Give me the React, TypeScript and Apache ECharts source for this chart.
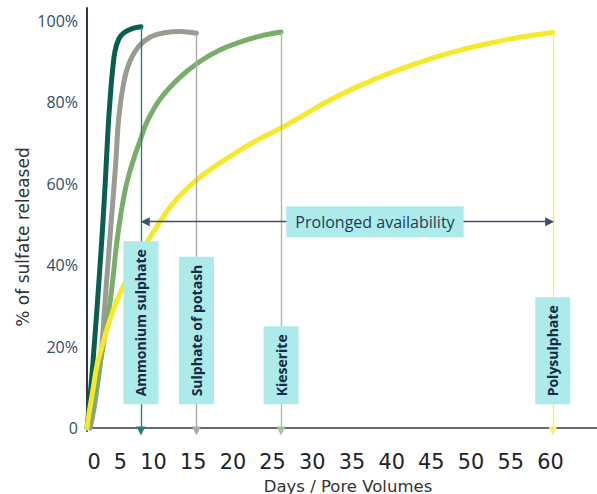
import React, { useEffect, useRef } from 'react';
import * as echarts from 'echarts';

// ---------- data ----------
const xTicks = [0, 5, 10, 15, 20, 25, 30, 35, 40, 45, 50, 55, 60];
const yTicks = [0, 20, 40, 60, 80, 100];

const ammoniumSulphate: [number, number][] = [
  [0, 0], [0.5, 10], [1.0, 22], [1.5, 35], [2.0, 49], [2.4, 62], [2.7, 73], [3.0, 81.5],
  [3.3, 88], [3.6, 92.5], [4.1, 95.6], [4.8, 97.2], [5.9, 98.2], [6.95, 98.6],
];
const sulphateOfPotash: [number, number][] = [
  [0.4, 0], [1, 6], [1.76, 17], [2.4, 33], [3.05, 49], [3.7, 65], [4.1, 76.5], [4.7, 84.5],
  [5.4, 89.5], [6.6, 93.6], [8.1, 96], [10, 97.1], [12, 97.4], [14.1, 97],
];
const kieserite: [number, number][] = [
  [0, 0], [0.5, 2.5], [1.1, 8.5], [1.8, 17], [2.6, 26], [3.3, 36], [3.8, 45], [4.4, 53],
  [5.1, 60], [6, 66], [7, 71.5], [7.8, 75.5], [9.5, 81], [12, 86.2], [14.5, 90], [17.1, 92.9],
  [19.7, 94.8], [22.3, 96.3], [25, 97.3],
];
const polysulphate: [number, number][] = [
  [0, 0], [0.3, 4], [0.7, 8.6], [1.3, 15.5], [2, 20.5], [2.6, 24.5], [3.3, 28.5], [3.9, 31.5],
  [4.8, 35.3], [6, 39.5], [7, 43], [7.85, 46], [9, 49.5], [10.4, 53.5], [12, 57.2], [14.1, 60.9],
  [16.7, 64.6], [19.7, 68.3], [22.3, 71.1], [25, 73.7], [28, 77], [31, 80.3], [35, 84],
  [39.4, 87.5], [44, 90.6], [48, 92.8], [52, 94.6], [56, 96.1], [60, 97.2],
];

const productNames = ['Ammonium sulphate', 'Sulphate of potash', 'Kieserite', 'Polysulphate'];
const availabilityText = 'Prolonged availability';
const availabilityFrom = 7.5;
const availabilityTo = 59.6;
const availabilityLevel = 50.7;
const availabilityLabelX = 37.1;
const labelBoxBottom = 5.8;

const X_MAX = 65.7;
const Y_MIN = -0.75;
const Y_MAX = 103.2;

const curveColors = ['#0a5e50', '#9a9b91', '#79ae6a', '#f6e82c'];
const arrowColors = ['#2e7e72', '#abaca4', '#a2c595', '#f7ef72'];

const SANS = "'Open Sans', 'Noto Sans', sans-serif";
const WIDE = "'DejaVu Sans', sans-serif";
const BOX = '#adeaea';

function buildOption() {
  const datasets = [ammoniumSulphate, sulphateOfPotash, kieserite, polysulphate];
  const series: any[] = datasets.map((data, i) => {
    const end = data[data.length - 1];
    const mlData: any[] = [
      [
        { coord: [end[0], end[1]], symbol: 'none' },
        { coord: [end[0], Y_MIN], symbol: 'triangle', lineStyle: { color: arrowColors[i], width: 1.4 } },
      ],
    ];
    if (i === datasets.length - 1) {
      mlData.push([
        { coord: [availabilityFrom, availabilityLevel], symbol: 'triangle' },
        {
          coord: [availabilityTo, availabilityLevel],
          symbol: 'triangle',
          lineStyle: { color: '#3b5266', width: 1.4 },
        },
      ]);
    }
    const mpData: any[] = [{ name: productNames[i], coord: [end[0], labelBoxBottom] }];
    const s: any = {
      name: productNames[i],
      type: 'line',
      data,
      smooth: 0.4,
      symbol: 'none',
      showSymbol: false,
      z: 2,
      lineStyle: { color: curveColors[i], width: 5, cap: 'round', join: 'round' },
      markLine: {
        silent: true,
        animation: false,
        symbolSize: 9,
        label: { show: false },
        lineStyle: { color: arrowColors[i], width: 1.4, type: 'solid' },
        data: mlData,
      },
      markPoint: {
        silent: true,
        animation: false,
        z: 10,
        symbol: 'rect',
        symbolSize: 1,
        itemStyle: { color: 'rgba(0,0,0,0)' },
        label: {
          show: true,
          position: 'inside',
          formatter: '{b}',
          rotate: 90,
          align: 'left',
          verticalAlign: 'middle',
          backgroundColor: BOX,
          padding: [9, 8, 9, 8],
          lineHeight: 17,
          color: '#142c48',
          fontWeight: 'bold',
          fontSize: 14,
          fontFamily: SANS,
        },
        data: mpData,
      },
    };
    return s;
  });

  // "Prolonged availability" box
  series.push({
    name: 'availability',
    type: 'line',
    data: [],
    markPoint: {
      silent: true,
      animation: false,
      z: 11,
      symbol: 'rect',
      symbolSize: 1,
      itemStyle: { color: 'rgba(0,0,0,0)' },
      label: {
        show: true,
        position: 'inside',
        formatter: '{b}',
        align: 'center',
        verticalAlign: 'middle',
        backgroundColor: BOX,
        padding: [6, 9, 6, 9],
        lineHeight: 19,
        color: '#1e3a55',
        fontSize: 16,
        fontFamily: SANS,
      },
      data: [{ name: availabilityText, coord: [availabilityLabelX, availabilityLevel] }],
    },
  });

  return {
    animation: false,
    backgroundColor: '#ffffff',
    textStyle: { fontFamily: SANS },
    grid: { left: 87, right: 0, top: 8, bottom: 63, containLabel: false, outerBoundsMode: 'none' },
    xAxis: {
      type: 'value',
      min: 0,
      max: X_MAX,
      name: 'Days / Pore Volumes',
      nameLocation: 'middle',
      nameGap: 46,
      nameMoveOverlap: false,
      nameTextStyle: { fontFamily: WIDE, fontSize: 16.5, lineHeight: 18, color: '#333', padding: [0, 0, 0, 12] },
      axisLine: { show: true, lineStyle: { color: '#2b3947', width: 1.6 } },
      axisTick: { show: false },
      axisLabel: { show: false },
      splitLine: { show: false },
    },
    yAxis: {
      type: 'value',
      min: Y_MIN,
      max: Y_MAX,
      name: '% of sulfate released',
      nameLocation: 'middle',
      nameGap: 56,
      nameMoveOverlap: false,
      nameRotate: 90,
      nameTextStyle: { fontFamily: WIDE, fontSize: 17, color: '#333', padding: [0, 35, 0, 0] },
      axisLine: { show: true, lineStyle: { color: '#2b3947', width: 2 } },
      axisTick: { show: false },
      splitLine: { show: false },
      axisLabel: {
        customValues: yTicks,
        margin: 9,
        fontSize: 16,
        fontFamily: SANS,
        color: '#2f4d6b',
        formatter: (v: number) => (v === 0 ? '0' : v + '%'),
      },
    },
    graphic: [
      {
        type: 'text',
        x: 325.5,
        y: 462,
        silent: true,
        style: {
          text: xTicks.join('  '),
          align: 'center',
          verticalAlign: 'middle',
          fontSize: 20.8,
          lineHeight: 21,
          fontFamily: WIDE,
          fill: '#222222',
        },
      },
    ],
    series,
  };
}

export default function App() {
  const ref = useRef<HTMLDivElement>(null);
  useEffect(() => {
    if (!ref.current) return;
    const chart = echarts.init(ref.current, null, { renderer: 'svg' });
    chart.setOption(buildOption() as any);
    return () => chart.dispose();
  }, []);
  return (
    <div
      ref={ref}
      style={{ position: 'fixed', left: 0, top: 0, width: 597, height: 494, background: '#fff' }}
    />
  );
}
